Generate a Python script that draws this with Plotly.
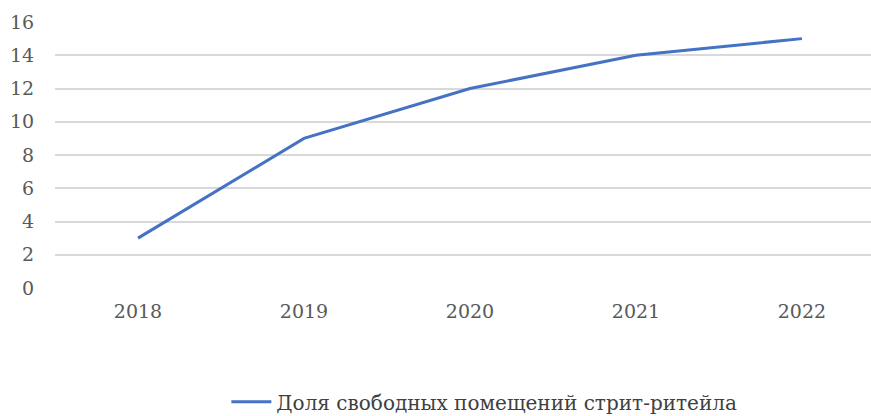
import plotly.graph_objects as go

years = ["2018", "2019", "2020", "2021", "2022"]
vacancy_share = [3, 9, 12, 14, 15]
series_name = "Доля свободных помещений стрит-ритейла"

fig = go.Figure()
fig.add_trace(go.Scatter(
    x=years,
    y=vacancy_share,
    mode="lines",
    name=series_name,
    line=dict(color="#4472C4", width=3),
))

font_family = "DejaVu Serif"

fig.update_layout(
    width=871,
    height=416,
    margin=dict(l=55, r=0, t=22, b=128),
    paper_bgcolor="white",
    plot_bgcolor="white",
    font=dict(family=font_family, size=19, color="#595959"),
    showlegend=True,
    legend=dict(
        orientation="h",
        x=0.21, xanchor="left",
        yref="container",
        y=0.034, yanchor="middle",
        itemwidth=40,
        font=dict(family=font_family, size=20, color="#404040"),
        bgcolor="rgba(0,0,0,0)",
    ),
    xaxis=dict(
        type="category",
        range=[-0.5, 4.416],
        showgrid=False,
        zeroline=False,
        showline=False,
        ticks="outside",
        ticklen=6,
        tickcolor="rgba(0,0,0,0)",
    ),
    yaxis=dict(
        range=[0, 16],
        tickvals=[0, 2, 4, 6, 8, 10, 12, 14, 16],
        showgrid=True,
        gridcolor="#D9D9D9",
        gridwidth=1.5,
        zeroline=False,
        showline=False,
        ticks="outside",
        ticklen=16,
        tickcolor="rgba(0,0,0,0)",
    ),
)

fig.write_html("out.html")
